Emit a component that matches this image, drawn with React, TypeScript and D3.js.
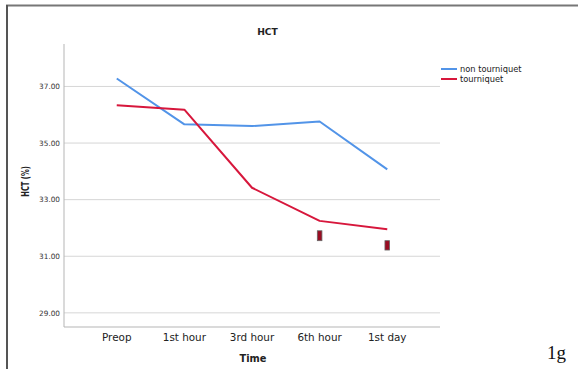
import React from "react";
import * as d3 from "d3";

// Mean HCT by time point for the two groups
const timePoints = ["Preop", "1st hour", "3rd hour", "6th hour", "1st day"];
const nonTourniquet = [37.28, 35.66, 35.6, 35.76, 34.07];
const tourniquet = [36.34, 36.18, 33.42, 32.25, 31.95];
// Small outlier markers (low/high extent) shown for the tourniquet group
const markerTimes = ["6th hour", "1st day"];
const markerLow = [31.55, 31.22];
const markerHigh = [31.9, 31.55];
const yTicks = [29, 31, 33, 35, 37];

const seriesNames = ["non tourniquet", "tourniquet"];
const seriesColors = ["#5294e8", "#d7173c"];

const W = 578;
const H = 369;
const plot = { left: 64, right: 440, top: 44, bottom: 327 };
const sans = "'DejaVu Sans', Verdana, sans-serif";

export default function App() {
  const x = d3
    .scalePoint<string>()
    .domain(timePoints)
    .range([plot.left, plot.right])
    .padding(0.78);
  const y = d3.scaleLinear().domain([28.5, 38.5]).range([plot.bottom, plot.top]);

  const line = d3
    .line<number>()
    .x((_, i) => x(timePoints[i]) as number)
    .y((d) => y(d));

  const series = [nonTourniquet, tourniquet];

  return (
    <svg
      width={W}
      height={H}
      style={{ position: "absolute", left: 0, top: 0, background: "#fff" }}
    >
      {/* outer frame */}
      <line x1={6} y1={5.5} x2={W} y2={5.5} stroke="#777" strokeWidth={2} />
      <line x1={7} y1={5} x2={7} y2={H} stroke="#555" strokeWidth={2} />

      {/* title */}
      <text
        x={267.5}
        y={35}
        textAnchor="middle"
        fontFamily={sans}
        fontWeight="bold"
        fontSize={9.2}
        fill="#222"
      >
        HCT
      </text>

      {/* grid lines and y tick labels */}
      {yTicks.map((t) => (
        <g key={t}>
          <line
            x1={plot.left}
            x2={plot.right}
            y1={y(t)}
            y2={y(t)}
            stroke="#d6d6d6"
            strokeWidth={1}
          />
          <text
            x={plot.left - 4}
            y={y(t) + 2.7}
            textAnchor="end"
            fontFamily={sans}
            fontSize={7.3}
            fill="#333"
          >
            {t.toFixed(2)}
          </text>
        </g>
      ))}

      {/* axes */}
      <line
        x1={plot.left}
        x2={plot.left}
        y1={plot.top}
        y2={plot.bottom}
        stroke="#b5b5b5"
        strokeWidth={1}
      />
      <line
        x1={plot.left}
        x2={plot.right}
        y1={plot.bottom}
        y2={plot.bottom}
        stroke="#b5b5b5"
        strokeWidth={1}
      />

      {/* x tick labels */}
      {timePoints.map((c) => (
        <text
          key={c}
          x={x(c)}
          y={341}
          textAnchor="middle"
          fontFamily={sans}
          fontSize={10.4}
          fill="#222"
        >
          {c}
        </text>
      ))}

      {/* axis titles */}
      <text
        x={253}
        y={362}
        textAnchor="middle"
        fontFamily={sans}
        fontWeight="bold"
        fontSize={9.8}
        fill="#222"
      >
        Time
      </text>
      <text
        transform={`translate(28.8, 181.5) rotate(-90)`}
        textAnchor="middle"
        fontFamily={sans}
        fontWeight="bold"
        fontSize={10.5}
        textLength={30.5}
        lengthAdjust="spacingAndGlyphs"
        fill="#222"
      >
        HCT (%)
      </text>

      {/* series lines */}
      {series.map((vals, si) => (
        <path
          key={seriesNames[si]}
          d={line(vals) as string}
          fill="none"
          stroke={seriesColors[si]}
          strokeWidth={2}
          strokeLinejoin="round"
        />
      ))}

      {/* small markers */}
      {markerTimes.map((t, i) => (
        <rect
          key={t}
          x={(x(t) as number) - 2.3}
          y={y(markerHigh[i])}
          width={4.6}
          height={y(markerLow[i]) - y(markerHigh[i])}
          fill="#9a0c22"
          stroke="#666"
          strokeWidth={0.8}
        />
      ))}

      {/* legend */}
      {seriesNames.map((n, i) => (
        <g key={n} transform={`translate(441, ${69 + i * 10})`}>
          <line x1={0} x2={16} y1={0} y2={0} stroke={seriesColors[i]} strokeWidth={2} />
          <text x={19} y={3} fontFamily={sans} fontSize={8.3} fill="#222">
            {n}
          </text>
        </g>
      ))}

      {/* panel label */}
      <text x={547} y={359} fontFamily="'Liberation Serif', 'Times New Roman', serif" fontSize={19} fill="#111">
        1g
      </text>
    </svg>
  );
}
